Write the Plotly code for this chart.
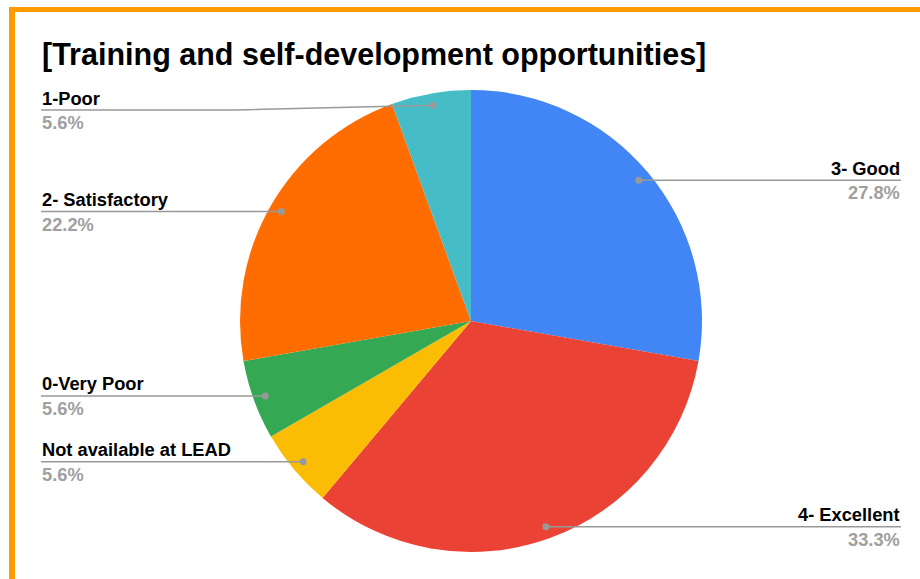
import math
import plotly.graph_objects as go

# Survey responses
labels = ["3- Good", "4- Excellent", "Not available at LEAD", "0-Very Poor",
          "2- Satisfactory", "1-Poor"]
counts = [5, 6, 1, 1, 4, 1]
colors = ["#4285F4", "#EA4335", "#FBBC04", "#34A853", "#FF6D01", "#46BDC6"]
title_text = "[Training and self-development opportunities]"

W, H = 920, 579
CX, CY, R = 471, 321, 231          # pie centre and radius in pixels
DOT_R = 0.948 * R                  # where the leader dot sits inside a slice
LEFT_X, RIGHT_X = 41, 901          # label column edges
LEFT_ELBOW, RIGHT_ELBOW = 235, 706
LABEL_MIN_Y = 110                  # keep labels below the title
LINE_COLOR = "#999999"
FONT = "Arial, Liberation Sans, sans-serif"
LABEL_SIZE = 18.3


def px(x):
    return x / W


def py(y):
    return 1 - y / H


fig = go.Figure(go.Pie(
    labels=labels, values=counts, sort=False, direction="clockwise",
    rotation=0, textinfo="none", hoverinfo="label+percent",
    marker=dict(colors=colors, line=dict(width=0)),
    domain=dict(x=[px(CX - R), px(CX + R)], y=[py(CY + R), py(CY - R)]),
    showlegend=False,
))

shapes = []
annotations = []
total = sum(counts)
acc = 0
for name, v in zip(labels, counts):
    mid = (acc + v / 2) / total * 2 * math.pi
    acc += v
    dx, dy = CX + DOT_R * math.sin(mid), CY - DOT_R * math.cos(mid)
    ly = max(dy, LABEL_MIN_Y)
    right = math.sin(mid) > 0
    end_x = RIGHT_X if right else LEFT_X
    elbow = RIGHT_ELBOW if right else LEFT_ELBOW
    shapes.append(dict(
        type="path", xref="paper", yref="paper",
        path=f"M {px(end_x)} {py(ly)} L {px(elbow)} {py(ly)} L {px(dx)} {py(dy)}",
        line=dict(color=LINE_COLOR, width=1.5), layer="above"))
    shapes.append(dict(
        type="circle", xref="paper", yref="paper",
        x0=px(dx - 3.5), x1=px(dx + 3.5), y0=py(dy + 3.5), y1=py(dy - 3.5),
        fillcolor=LINE_COLOR, line=dict(width=0), layer="above"))
    anchor = "right" if right else "left"
    annotations.append(dict(
        x=px(end_x), y=py(ly - 0.5), xref="paper", yref="paper",
        text=f"<b>{name}</b>", showarrow=False, xanchor=anchor, yanchor="bottom",
        font=dict(family=FONT, size=LABEL_SIZE, color="#000000"), borderpad=0))
    annotations.append(dict(
        x=px(end_x), y=py(ly + 1), xref="paper", yref="paper",
        text=f"<b>{v / total * 100:.1f}%</b>", showarrow=False, xanchor=anchor,
        yanchor="top", font=dict(family=FONT, size=LABEL_SIZE, color="#A0A0A0"),
        borderpad=0))

annotations.append(dict(
    x=px(41), y=py(36), xref="paper", yref="paper",
    text=f"<b>{title_text}</b>", showarrow=False, xanchor="left", yanchor="top",
    font=dict(family=FONT, size=30.5, color="#000000"), borderpad=0))

# orange frame along the top and left edges
shapes.append(dict(type="line", xref="paper", yref="paper",
                   x0=px(9), x1=1, y0=py(9.5), y1=py(9.5),
                   line=dict(color="#FF9900", width=5), layer="above"))
shapes.append(dict(type="line", xref="paper", yref="paper",
                   x0=px(12), x1=px(12), y0=py(7), y1=0,
                   line=dict(color="#FF9900", width=6), layer="above"))

fig.update_layout(
    width=W, height=H, margin=dict(l=0, r=0, t=0, b=0),
    paper_bgcolor="white", plot_bgcolor="white",
    shapes=shapes, annotations=annotations,
)

fig.write_html("out.html")
